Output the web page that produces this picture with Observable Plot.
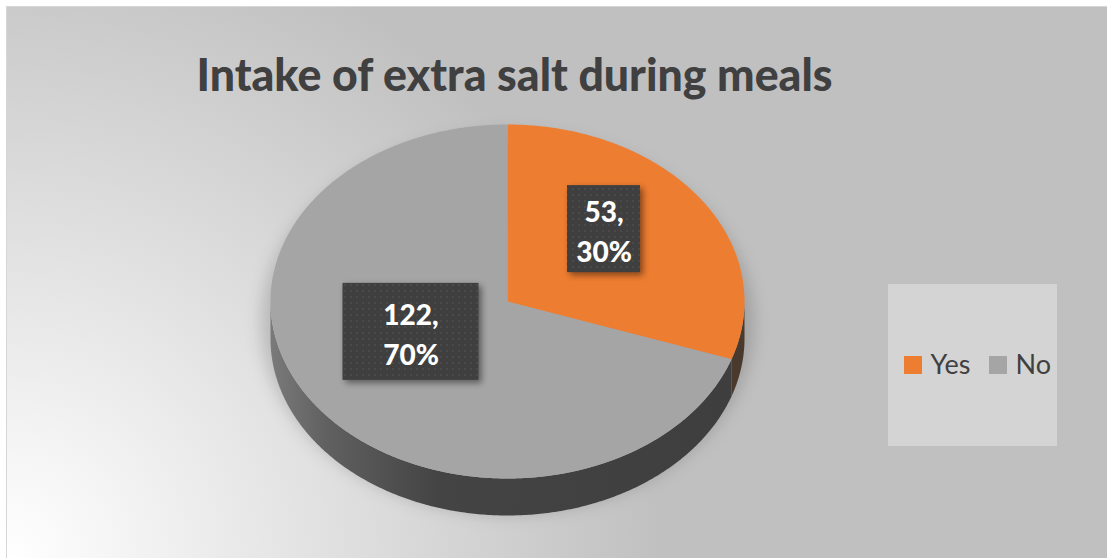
<!DOCTYPE html>
<html><head><meta charset="utf-8">
<script src="https://cdn.jsdelivr.net/npm/d3@7"></script>
<script src="https://cdn.jsdelivr.net/npm/@observablehq/plot@0.6"></script>
<style>
body{margin:0;background:#fff;}
#wrap{position:relative;width:1107px;height:558px;overflow:hidden;background:#fff;}
#bg{position:absolute;left:6px;top:6px;width:1101px;height:552px;border-left:1px solid #d6d6d6;border-top:1px solid #d6d6d6;box-sizing:border-box;
  background:radial-gradient(circle 820px at 0% 100%, #ffffff 0%, #f6f6f6 12%, #dcdcdc 45%, #c0c0c0 80%);}
#chart{position:absolute;left:0;top:0;}
#chart svg{background:transparent !important;}
</style></head><body>
<div id="wrap"><div id="bg"></div><div id="chart"></div></div>
<script>
// ---- data ----
const title = "Intake of extra salt during meals";
const categories = ["Yes", "No"];
const counts = [53, 122];
const colors = ["#ed7d31", "#a5a5a5"];
const sideColors = ["#4a3a2e", "url(#sideGrad)"];

// ---- layout ----
const W = 1107, H = 558;
const cx = 507, cy = 301, rx = 237, ry = 177, depth = 37;
const boxSize = {Yes: [73, 87], No: [136, 97]};
const total = d3.sum(counts);
const arcs = d3.pie().sort(null).value(d => d)(counts);
const P = (a, dz = 0) => ({x: cx + rx * Math.sin(a), y: cy - ry * Math.cos(a) + dz});
function arcPts(a0, a1, dz) {
  const n = Math.max(2, Math.ceil(Math.abs(a1 - a0) / 0.01));
  return d3.range(n + 1).map(k => P(a0 + (a1 - a0) * k / n, dz));
}

const tops = [], sides = [];
arcs.forEach((a, i) => {
  [{x: cx, y: cy}, ...arcPts(a.startAngle, a.endAngle, 0)].forEach(p => tops.push({...p, id: i, fill: colors[i]}));
  const s = Math.max(a.startAngle, Math.PI / 2), e = Math.min(a.endAngle, 3 * Math.PI / 2);
  if (s < e) {
    [...arcPts(s, e, 0), ...arcPts(e, s, depth)].forEach(p => sides.push({...p, id: i, fill: sideColors[i]}));
  }
});
const shadow = arcPts(0, 2 * Math.PI, 0).map(p => ({x: cx + (p.x - cx) * 1.04, y: cy + 22 + (p.y - cy) * 1.08}));

const labels = arcs.map((a, i) => {
  const mid = (a.startAngle + a.endAngle) / 2;
  const pct = Math.round(counts[i] / total * 100);
  const p = {x: cx + rx * 0.5 * Math.sin(mid), y: cy - ry * 0.5 * Math.cos(mid) - 21};
  const [bw, bh] = boxSize[categories[i]];
  return {...p, text: `${counts[i]},\n${pct}%`, x1: p.x - bw / 2, x2: p.x + bw / 2, y1: p.y - bh / 2, y2: p.y + bh / 2};
});

const legendItems = categories.map((c, i) => ({cat: c, color: colors[i], x: 904 + i * 85, y: 365}));

const chart = Plot.plot({
  width: W, height: H,
  margin: 0,
  x: {type: "linear", domain: [0, W], range: [0, W], axis: null},
  y: {type: "linear", domain: [0, H], range: [0, H], axis: null},
  color: {type: "identity"},
  style: {background: "transparent"},
  marks: [
    Plot.line(shadow, {x: "x", y: "y", fill: "#111111", fillOpacity: 0.16, stroke: "none", curve: "linear-closed"}),
    Plot.line(sides, {x: "x", y: "y", z: "id", fill: "fill", stroke: "none", curve: "linear-closed"}),
    Plot.line(tops, {x: "x", y: "y", z: "id", fill: "fill", stroke: "none", curve: "linear-closed"}),
    Plot.rect(labels, {x1: "x1", x2: "x2", y1: "y1", y2: "y2", fill: "url(#dots)"}),
    Plot.text(labels, {x: "x", y: "y", text: "text", fill: "white", fontSize: 28, fontWeight: 900, lineHeight: 1.43, fontFamily: "Lato"}),
    Plot.text([title], {x: () => 514, y: () => 76, text: d => d, fontSize: 45, fontWeight: 900, fill: "#404040", fontFamily: "Lato"}),
    Plot.rect([0], {x1: () => 888, x2: () => 1057, y1: () => 284, y2: () => 446, fill: "#d4d4d4"}),
    Plot.rect(legendItems, {x1: "x", x2: d => d.x + 18, y1: d => d.y - 9, y2: d => d.y + 9, fill: "color"}),
    Plot.text(legendItems, {x: d => d.x + 26, y: "y", text: "cat", textAnchor: "start", fontSize: 27, fill: "#404040", fontFamily: "Lato"})
  ]
});

chart.insertAdjacentHTML("afterbegin", `<defs>
  <linearGradient id="sideGrad" gradientUnits="userSpaceOnUse" x1="${cx - rx}" y1="0" x2="${cx + rx}" y2="0">
    <stop offset="0" stop-color="#7a7a7a"/><stop offset="0.12" stop-color="#606060"/><stop offset="0.35" stop-color="#444444"/><stop offset="1" stop-color="#3e3e3e"/>
  </linearGradient>
  <pattern id="dots" patternUnits="userSpaceOnUse" width="6" height="6">
    <rect width="6" height="6" fill="#3f3f3f"/><circle cx="3" cy="3" r="1" fill="#4d4d4d"/>
  </pattern>
  <filter id="blur" x="-20%" y="-20%" width="140%" height="140%"><feGaussianBlur stdDeviation="8"/></filter>
</defs>`);
chart.querySelectorAll('g[fill="url(#dots)"]').forEach(g => g.style.filter = "drop-shadow(3px 3px 3px rgba(0,0,0,0.45))");
chart.querySelectorAll('g[fill="#111111"] path, path[fill="#111111"]').forEach(p => p.setAttribute("filter", "url(#blur)"));
chart.querySelectorAll("text").forEach(t => { if (t.textContent === title) { t.setAttribute("textLength", 636); t.setAttribute("lengthAdjust", "spacingAndGlyphs"); } });
document.getElementById("chart").appendChild(chart);
</script>
</body></html>
